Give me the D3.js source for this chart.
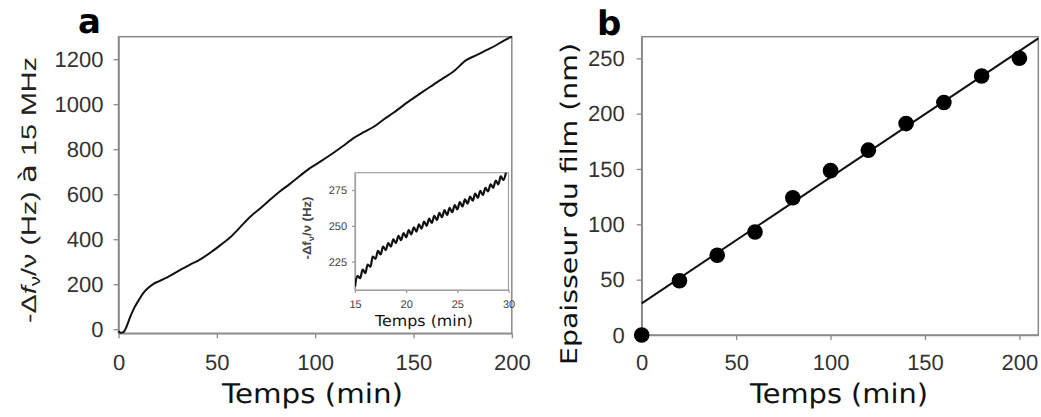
<!DOCTYPE html>
<html><head><meta charset="utf-8">
<script src="https://cdn.jsdelivr.net/npm/d3@7/dist/d3.min.js"></script>
<style>
html,body{margin:0;padding:0;background:#fff;}
svg{display:block;}
text{text-rendering:geometricPrecision;}
</style></head>
<body>
<svg id="chart" width="1041" height="417"></svg>
<script>
// ---------- Data ----------
// Panel a: main frequency shift curve
const timeA = [0, 1, 2, 3, 4, 6, 8, 10, 13, 16, 18, 21, 25, 31, 36, 42, 47, 52, 57, 62, 67, 72, 77, 82, 87, 92, 97, 103, 109, 114, 119.5, 125, 130, 135, 140, 145, 150, 155, 160, 165, 170, 177, 182, 187, 192, 196, 200];
const shiftA = [-8, -15, -14, -8, 10, 56, 95, 125, 165, 190, 203, 215, 232, 262, 285, 313, 342, 375, 410, 455, 500, 537, 575, 612, 645, 680, 714, 747, 782, 813, 849, 877, 901, 933, 963, 996, 1027, 1057, 1086, 1115, 1143, 1197, 1218, 1240, 1262, 1283, 1300];
const ticksAx = [0, 50, 100, 150, 200];
const ticksAy = [0, 200, 400, 600, 800, 1000, 1200];

// Inset: zoom 15-30 min
const timeI = [15, 15.25, 15.5, 15.75, 16, 16.25, 16.5, 16.75, 17, 17.25, 17.5, 17.75, 18, 18.25, 18.5, 18.75, 19, 19.25, 19.5, 19.75, 20, 20.25, 20.5, 20.75, 21, 21.25, 21.5, 21.75, 22, 22.25, 22.5, 22.75, 23, 23.25, 23.5, 23.75, 24, 24.25, 24.5, 24.75, 25, 25.25, 25.5, 25.75, 26, 26.25, 26.5, 26.75, 27, 27.25, 27.5, 27.75, 28, 28.25, 28.5, 28.75, 29, 29.25, 29.5, 29.75];
const shiftI = [207.5, 215, 213.5, 219.5, 217, 223, 221.5, 228.5, 227, 232.5, 230, 235.5, 233, 238, 235.5, 240.5, 238, 243, 240, 245, 242, 247, 244, 249, 246, 251, 248, 253, 250, 255, 252, 257, 254, 259, 256, 261, 257.5, 262.5, 259.5, 264.5, 261.5, 266.5, 263.5, 268.5, 265.5, 270.5, 267.5, 272.5, 269.5, 274.5, 271.5, 276.5, 274, 279, 276.5, 281.5, 279, 284.5, 282, 287];
const ticksIx = [15, 20, 25, 30];
const ticksIy = [225, 250, 275];

// Panel b: film thickness
const timeB = [0, 20, 40, 60, 80, 100, 120, 140, 160, 180, 200];
const thickB = [0, 49, 72, 93, 124, 148.5, 167, 191, 210, 234, 250];
const fitTime = [0, 210];
const fitThick = [28.6, 268];
const ticksBx = [0, 50, 100, 150, 200];
const ticksBy = [0, 50, 100, 150, 200, 250];

// ---------- Drawing ----------
const svg = d3.select("#chart");
const AXIS = "#8a8a8a";
const TXT = "#333";
const tickFont = "'Liberation Sans', Arial, sans-serif";
const titleFont = "'DejaVu Sans', Verdana, sans-serif";
const fmt = d3.format("d");

function styleAxis(g, fs, fill) {
  g.select(".domain").attr("stroke", AXIS).attr("stroke-width", 1.5);
  g.selectAll(".tick line").attr("stroke", AXIS).attr("stroke-width", 1.3);
  g.selectAll(".tick text").attr("font-family", tickFont).attr("font-size", fs).attr("fill", fill);
}

// ---- Panel a ----
const xA = d3.scaleLinear().domain([0, 200]).range([118.5, 511.8]);
const yA = d3.scaleLinear().domain([-18, 1300]).range([333.3, 36.7]);

svg.append("rect").attr("x", xA.range()[0]).attr("y", yA.range()[1])
  .attr("width", xA.range()[1] - xA.range()[0]).attr("height", yA.range()[0] - yA.range()[1])
  .attr("fill", "none").attr("stroke", AXIS).attr("stroke-width", 1.5);

svg.append("g").attr("transform", `translate(0,${yA.range()[0]})`)
  .call(d3.axisBottom(xA).tickValues(ticksAx).tickFormat(fmt).tickSize(5).tickSizeOuter(0).tickPadding(16))
  .call(g => styleAxis(g, 22, TXT));
svg.append("g").attr("transform", `translate(${xA.range()[0]},0)`)
  .call(d3.axisLeft(yA).tickValues(ticksAy).tickFormat(fmt).tickSize(5).tickSizeOuter(0).tickPadding(10))
  .call(g => styleAxis(g, 22, TXT));

svg.append("path").datum(timeA.map((t, i) => [t, shiftA[i]]))
  .attr("d", d3.line().x(d => xA(d[0])).y(d => yA(d[1])).curve(d3.curveMonotoneX))
  .attr("fill", "none").attr("stroke", "#111").attr("stroke-width", 2);

// axis titles a
svg.append("text").attr("x", 312.5).attr("y", 403).attr("text-anchor", "middle")
  .attr("font-family", titleFont).attr("font-size", 27).attr("fill", "#111")
  .attr("textLength", 181).attr("lengthAdjust", "spacingAndGlyphs").text("Temps (min)");

const ylabA = svg.append("text").attr("transform", "translate(36,190) rotate(-90)")
  .attr("text-anchor", "middle").attr("font-family", tickFont).attr("font-size", 21).attr("fill", "#222")
  .attr("textLength", 266).attr("lengthAdjust", "spacingAndGlyphs");
ylabA.append("tspan").text("-Δ");
ylabA.append("tspan").attr("font-style", "italic").text("f");
ylabA.append("tspan").attr("font-size", 15).attr("dy", 4).text("ν");
ylabA.append("tspan").attr("dy", -4).text("/ν (Hz)  ");
ylabA.append("tspan").attr("font-family", titleFont).attr("font-size", 23).text("à");
ylabA.append("tspan").text(" 15 MHz");

svg.append("text").attr("x", 78).attr("y", 33).attr("font-family", titleFont)
  .attr("font-weight", "bold").attr("font-size", 34).attr("fill", "#000").text("a");

// ---- Inset ----
const xI = d3.scaleLinear().domain([15, 30]).range([355, 508.5]);
const yI = d3.scaleLinear().domain([205.2, 287.1]).range([290, 172.7]);

svg.append("rect").attr("x", xI.range()[0]).attr("y", yI.range()[1])
  .attr("width", xI.range()[1] - xI.range()[0]).attr("height", yI.range()[0] - yI.range()[1])
  .attr("fill", "#fff").attr("stroke", "#a0a0a0").attr("stroke-width", 1.2);

function styleInset(g) {
  styleAxis(g, 11, "#444");
  g.select(".domain").attr("stroke", "#a0a0a0").attr("stroke-width", 1.2);
  g.selectAll(".tick line").attr("stroke", "#a0a0a0");
}
svg.append("g").attr("transform", `translate(0,${yI.range()[0]})`)
  .call(d3.axisBottom(xI).tickValues(ticksIx).tickFormat(fmt).tickSize(3).tickSizeOuter(0).tickPadding(7))
  .call(styleInset);
svg.append("g").attr("transform", `translate(${xI.range()[0]},0)`)
  .call(d3.axisLeft(yI).tickValues(ticksIy).tickFormat(fmt).tickSize(3).tickSizeOuter(0).tickPadding(5))
  .call(styleInset);

svg.append("defs").append("clipPath").attr("id", "clipI").append("rect")
  .attr("x", xI.range()[0]).attr("y", yI.range()[1] - 2)
  .attr("width", xI.range()[1] - xI.range()[0] + 2).attr("height", yI.range()[0] - yI.range()[1] + 2);

svg.append("path").datum(timeI.map((t, i) => [t, shiftI[i]]))
  .attr("clip-path", "url(#clipI)")
  .attr("d", d3.line().x(d => xI(d[0])).y(d => yI(d[1])).curve(d3.curveCatmullRom.alpha(0.5)))
  .attr("fill", "none").attr("stroke", "#111").attr("stroke-width", 2.2);

svg.append("text").attr("x", 424).attr("y", 326).attr("text-anchor", "middle")
  .attr("font-family", titleFont).attr("font-size", 15).attr("fill", "#111")
  .attr("textLength", 98).attr("lengthAdjust", "spacingAndGlyphs").text("Temps (min)");

const ylabI = svg.append("text").attr("transform", "translate(311,228) rotate(-90)")
  .attr("text-anchor", "middle").attr("font-family", tickFont).attr("font-size", 12)
  .attr("font-weight", "bold").attr("fill", "#444")
  .attr("textLength", 63).attr("lengthAdjust", "spacingAndGlyphs");
ylabI.append("tspan").text("-Δf");
ylabI.append("tspan").attr("font-size", 8.5).attr("dy", 2.5).text("ν");
ylabI.append("tspan").attr("dy", -2.5).text("/ν (Hz)");

// ---- Panel b ----
const xB = d3.scaleLinear().domain([0, 210]).range([641.7, 1038.3]);
const yB = d3.scaleLinear().domain([0, 269.5]).range([335, 36.7]);

svg.append("rect").attr("x", xB.range()[0]).attr("y", yB.range()[1])
  .attr("width", xB.range()[1] - xB.range()[0]).attr("height", yB.range()[0] - yB.range()[1])
  .attr("fill", "none").attr("stroke", AXIS).attr("stroke-width", 1.5);

svg.append("g").attr("transform", `translate(0,${yB.range()[0]})`)
  .call(d3.axisBottom(xB).tickValues(ticksBx).tickFormat(fmt).tickSize(5).tickSizeOuter(0).tickPadding(14))
  .call(g => styleAxis(g, 22, TXT));
svg.append("g").attr("transform", `translate(${xB.range()[0]},0)`)
  .call(d3.axisLeft(yB).tickValues(ticksBy).tickFormat(fmt).tickSize(5).tickSizeOuter(0).tickPadding(12))
  .call(g => styleAxis(g, 22, TXT));

svg.append("path").datum(fitTime.map((t, i) => [t, fitThick[i]]))
  .attr("d", d3.line().x(d => xB(d[0])).y(d => yB(d[1])))
  .attr("fill", "none").attr("stroke", "#111").attr("stroke-width", 2);

svg.append("g").selectAll("circle").data(timeB.map((t, i) => [t, thickB[i]])).join("circle")
  .attr("cx", d => xB(d[0])).attr("cy", d => yB(d[1])).attr("r", 7.8).attr("fill", "#000");

svg.append("text").attr("x", 839).attr("y", 403).attr("text-anchor", "middle")
  .attr("font-family", titleFont).attr("font-size", 27).attr("fill", "#111")
  .attr("textLength", 178).attr("lengthAdjust", "spacingAndGlyphs").text("Temps (min)");

svg.append("text").attr("transform", "translate(577,204) rotate(-90)")
  .attr("text-anchor", "middle").attr("font-family", titleFont).attr("font-size", 23).attr("fill", "#111")
  .attr("textLength", 322).attr("lengthAdjust", "spacingAndGlyphs").text("Epaisseur du film (nm)");

svg.append("text").attr("x", 597).attr("y", 35).attr("font-family", titleFont)
  .attr("font-weight", "bold").attr("font-size", 34).attr("fill", "#000").text("b");
</script>
</body></html>
